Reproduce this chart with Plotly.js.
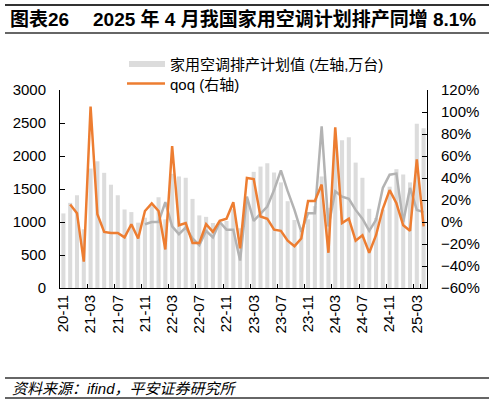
<!DOCTYPE html>
<html>
<head>
<meta charset="utf-8">
<script src="https://cdn.plot.ly/plotly-3.0.1.min.js"></script>
<style>
  html, body { margin: 0; padding: 0; background: #fff; }
  #chart { width: 494px; height: 407px; }
</style>
</head>
<body>
<div id="chart"></div>
<script>
// months 20-11 .. 25-04
var months = [
  '20-11','20-12',
  '21-01','21-02','21-03','21-04','21-05','21-06','21-07','21-08','21-09','21-10','21-11','21-12',
  '22-01','22-02','22-03','22-04','22-05','22-06','22-07','22-08','22-09','22-10','22-11','22-12',
  '23-01','23-02','23-03','23-04','23-05','23-06','23-07','23-08','23-09','23-10','23-11','23-12',
  '24-01','24-02','24-03','24-04','24-05','24-06','24-07','24-08','24-09','24-10','24-11','24-12',
  '25-01','25-02','25-03','25-04'
];
var tickLabels = ['20-11','21-03','21-07','21-11','22-03','22-07','22-11','23-03','23-07','23-11','24-03','24-07','24-11','25-03'];

// 家用空调排产计划值 (万台)
var plan = [1130, 1290, 1405, 890, 1810, 1920, 1745, 1565, 1405, 1190, 1150, 990, 1065, 1240,
  1375, 1040, 1730, 1690, 1670, 1350, 1100, 1078, 985, 992, 1015, 1195,
  905, 1275, 1760, 1840, 1890, 1750, 1600, 1315, 1030, 860, 1040, 1240,
  1690, 1215, 2240, 2240, 2285, 1900, 1670, 1200, 1060, 1190, 1535, 1800,
  1720, 1600, 2490, 2420];

// qoq (%)
var qoq = [null, 16, 8, -36, 105, 7, -9, -10, -10, -14, -2, -15, 10, 17,
  10, -25, 69, -3, -1, -19, -19, -2, -9, 1, 3, 18,
  -24, 40, 39, 5, 3, -7, -8, -17, -22, -15, 19, 19,
  34, -28, 86, -1, 3, -17, -12, -28, -12, 12, 29, 17,
  -3, -8, 57, -4];

// yoy (%)
var yoy = [null, null, null, null, null, null, null, null, null, null, null, null, -2, 0,
  0, 18, -4, -11, -5, -15, -21, -8, -14, 0, -7, -7,
  -35, 23, 1, 8, 14, 29, 47, 28, 11, -9, 8, 8,
  87, -4, 28, 23, 21, 11, 3, -8, 2, 31, 43, 44,
  0, 31, 11, 9];

var FONT = 'Liberation Sans, Arial, Noto Sans CJK SC, sans-serif';
var BAR_COLOR = '#dcdcdc';
var QOQ_COLOR = '#ed7d31';

var bars = {
  x: months, y: plan, type: 'bar', name: '家用空调排产计划值 (左轴,万台)',
  marker: {color: BAR_COLOR}, width: 0.6, yaxis: 'y'
};
var yoyLine = {
  x: months, y: yoy, type: 'scatter', mode: 'lines', name: 'yoy (右轴)',
  line: {color: '#b3b3b3', width: 2.5}, yaxis: 'y2'
};
var qoqLine = {
  x: months, y: qoq, type: 'scatter', mode: 'lines', name: 'qoq (右轴)',
  line: {color: QOQ_COLOR, width: 2.5}, yaxis: 'y2'
};

// helpers to place page furniture in paper units (plot area 60..427 x 90..288)
function px(x) { return (x - 60) / 367; }
function py(y) { return (288 - y) / 198; }

var layout = {
  width: 494, height: 407,
  margin: {l: 60, r: 67, t: 90, b: 119, pad: 0},
  paper_bgcolor: '#fff', plot_bgcolor: '#fff',
  font: {family: FONT, size: 15, color: '#000'},
  showlegend: false,
  xaxis: {
    type: 'category', categoryarray: months, range: [-0.5, 53.5],
    tickvals: tickLabels, ticktext: tickLabels, tickangle: -90,
    tickson: 'boundaries', ticks: 'inside', ticklen: 4, tickcolor: '#000',
    showline: true, linecolor: '#000', linewidth: 1,
    showgrid: false, zeroline: false, tickfont: {size: 15}
  },
  yaxis: {
    range: [0, 3000], dtick: 500, ticks: 'inside', ticklen: 5, tickcolor: '#000',
    showline: true, linecolor: '#000', linewidth: 1,
    showgrid: false, zeroline: false, tickfont: {size: 15}, ticklabelstandoff: 10
  },
  yaxis2: {
    overlaying: 'y', side: 'right', range: [-60, 120], dtick: 20, ticksuffix: '%',
    ticks: 'inside', ticklen: 5, tickcolor: '#000',
    showline: true, linecolor: '#000', linewidth: 1,
    showgrid: false, zeroline: false, tickfont: {size: 15}, ticklabelstandoff: 10
  },
  shapes: [
    {type: 'line', xref: 'paper', yref: 'paper', x0: px(5), x1: px(489), y0: py(5), y1: py(5), line: {color: '#333', width: 2}},
    {type: 'line', xref: 'paper', yref: 'paper', x0: px(5), x1: px(489), y0: py(33), y1: py(33), line: {color: '#333', width: 1.5}},
    {type: 'line', xref: 'paper', yref: 'paper', x0: px(5), x1: px(489), y0: py(378), y1: py(378), line: {color: '#333', width: 1.5}},
    {type: 'line', xref: 'paper', yref: 'paper', x0: px(5), x1: px(489), y0: py(398), y1: py(398), line: {color: '#333', width: 1.5}},
    // legend keys
    {type: 'rect', xref: 'paper', yref: 'paper', x0: px(129), x1: px(165), y0: py(61), y1: py(67), fillcolor: BAR_COLOR, line: {width: 0}},
    {type: 'line', xref: 'paper', yref: 'paper', x0: px(127), x1: px(165), y0: py(83.5), y1: py(83.5), line: {color: QOQ_COLOR, width: 2.5}}
  ],
  annotations: [
    {xref: 'paper', yref: 'paper', x: px(8), y: py(19), xanchor: 'left', yanchor: 'middle', showarrow: false,
     text: '<b>图表26</b>', font: {size: 19, family: FONT}},
    {xref: 'paper', yref: 'paper', x: px(478), y: py(19), xanchor: 'right', yanchor: 'middle', showarrow: false,
     text: '<b>2025 年 4 月我国家用空调计划排产同增 8.1%</b>', font: {size: 19, family: FONT}},
    // legend labels
    {xref: 'paper', yref: 'paper', x: px(168), y: py(64), xanchor: 'left', yanchor: 'middle', showarrow: false,
     text: bars.name, font: {size: 15, family: FONT}},
    {xref: 'paper', yref: 'paper', x: px(168), y: py(84), xanchor: 'left', yanchor: 'middle', showarrow: false,
     text: qoqLine.name, font: {size: 15, family: FONT}},
    {xref: 'paper', yref: 'paper', x: px(10), y: py(388), xanchor: 'left', yanchor: 'middle', showarrow: false,
     text: '<i>资料来源：ifind，平安证券研究所</i>', font: {size: 15, family: FONT}}
  ]
};

Plotly.newPlot('chart', [bars, yoyLine, qoqLine], layout, {displayModeBar: false, staticPlot: true});
</script>
</body>
</html>
